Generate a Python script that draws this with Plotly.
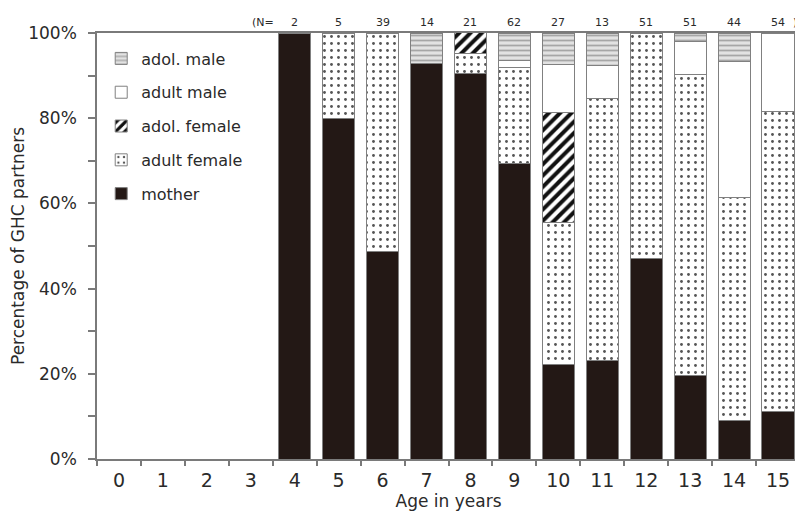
import plotly.graph_objects as go

ages = list(range(16))
age_labels = [str(a) for a in ages]
n_labels = ["2", "5", "39", "14", "21", "62", "27", "13", "51", "51", "44", "54"]
n_ages = list(range(4, 16))

mother = [0, 0, 0, 0, 100, 80, 48.7, 92.9, 90.5, 69.4, 22.2, 23.1, 47.1, 19.6, 9.1, 11.1]
adult_female = [0, 0, 0, 0, 0, 20, 51.3, 0, 4.8, 22.6, 33.3, 61.5, 52.9, 70.6, 52.3, 70.4]
adol_female = [0, 0, 0, 0, 0, 0, 0, 0, 4.8, 0, 25.9, 0, 0, 0, 0, 0]
adult_male = [0, 0, 0, 0, 0, 0, 0, 0, 0, 1.6, 11.1, 7.7, 0, 7.8, 31.8, 18.5]
adol_male = [0, 0, 0, 0, 0, 0, 0, 7.1, 0, 6.4, 7.4, 7.7, 0, 2.0, 6.8, 0]

y_ticks = [0, 20, 40, 60, 80, 100]
y_ticklabels = ["0%", "20%", "40%", "60%", "80%", "100%"]

FONT = "DejaVu Sans"
TXT = "#2a2a2a"
AX = "#7a7a7a"

def nz(v):
    return [x if x else None for x in v]

series = [
    ("mother", mother, 5, dict(color="#231815")),
    ("adult female", adult_female, 4, dict(color="white", pattern=dict(shape=".", fgcolor="#555", bgcolor="white", size=7, solidity=0.13, fillmode="replace", fgopacity=1))),
    ("adol. female", adol_female, 3, dict(color="white", pattern=dict(shape="/", fgcolor="#111", bgcolor="white", size=8, solidity=0.5, fillmode="replace", fgopacity=1))),
    ("adult male", adult_male, 2, dict(color="white")),
    ("adol. male", adol_male, 1, dict(color="#dcdcdc", pattern=dict(shape="-", fgcolor="#a6a6a6", bgcolor="#e2e2e2", size=5, solidity=0.35, fillmode="replace", fgopacity=1))),
]

fig = go.Figure()
for name, vals, rank, mk in series:
    mk = dict(mk)
    mk["line"] = dict(color="#808080", width=1)
    fig.add_trace(go.Bar(x=ages, y=nz(vals), name=name, marker=mk, width=0.73,
                         legendgroup=name, legendrank=rank))

nfont = dict(size=11, color=TXT, family=FONT)
annotations = [dict(x=3.28, y=1.045, xref="x", yref="paper", text="(N=", showarrow=False, font=nfont)]
for a, t in zip(n_ages, n_labels):
    annotations.append(dict(x=a, y=1.045, xref="x", yref="paper", text=t, showarrow=False, font=nfont))
annotations.append(dict(x=15.38, y=1.045, xref="x", yref="paper", text=")", showarrow=False, font=nfont))

fig.update_layout(
    width=795, height=505,
    margin=dict(l=89, r=3, t=25, b=54),
    paper_bgcolor="white", plot_bgcolor="white",
    barmode="stack",
    font=dict(family=FONT, color=TXT),
    showlegend=True,
    legend=dict(x=0.006, y=0.98, xanchor="left", yanchor="top", traceorder="grouped",
                tracegroupgap=10, font=dict(size=16, color=TXT, family=FONT),
                bgcolor="rgba(0,0,0,0)", itemwidth=30),
    annotations=annotations,
    xaxis=dict(range=[-0.5, 15.5], tickmode="array", tickvals=ages, ticktext=age_labels,
               ticks="", showline=True, linecolor=AX, linewidth=1.5, mirror=True,
               showgrid=False, zeroline=False, tickfont=dict(size=19, color=TXT),
               automargin=False, ticklabelstandoff=3,
               minor=dict(tickmode="linear", tick0=-0.5, dtick=1, ticks="outside",
                          ticklen=5, tickcolor=AX, tickwidth=1.5, showgrid=False),
               title=dict(text="Age in years", font=dict(size=17, color=TXT), standoff=6)),
    yaxis=dict(range=[0, 100], tickmode="array", tickvals=y_ticks, ticktext=y_ticklabels,
               ticks="outside", ticklen=7, tickcolor=AX, tickwidth=1.5,
               showline=True, linecolor=AX, linewidth=1.5, mirror=True,
               showgrid=False, zeroline=False, tickfont=dict(size=17, color=TXT),
               automargin=False, ticklabelstandoff=8,
               minor=dict(tickmode="linear", tick0=0, dtick=10, ticks="outside",
                          ticklen=7, tickcolor=AX, tickwidth=1.5, showgrid=False),
               title=dict(text="Percentage of GHC partners", font=dict(size=17, color=TXT), standoff=2)),
)

fig.write_html("out.html")
